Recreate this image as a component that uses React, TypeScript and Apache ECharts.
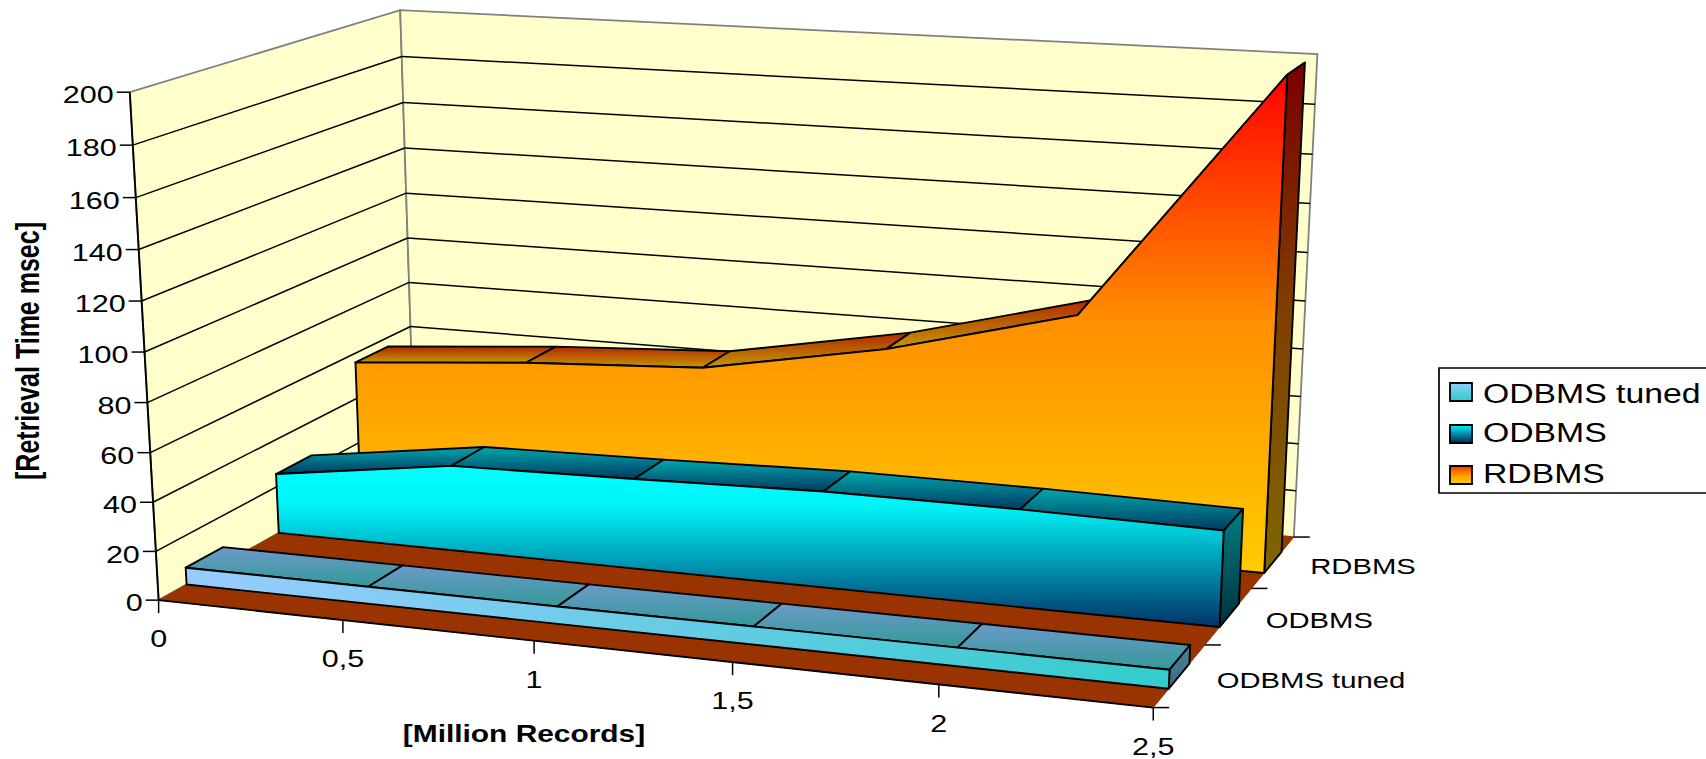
import React, { useEffect, useRef } from "react";
import * as echarts from "echarts";

const W = 1706;
const H = 759;

// Data
const xValues = [0, 0.5, 1, 1.5, 2, 2.5];
const xTickLabels = ["0", "0,5", "1", "1,5", "2", "2,5"];
const yTicks = [0, 20, 40, 60, 80, 100, 120, 140, 160, 180, 200];
const depthLabels = ["ODBMS tuned", "ODBMS", "RDBMS"];
const tunedValues = [7, 7, 7, 7.2, 7.3, 7.3];
const odbmsValues = [25.5, 36, 37.5, 39.5, 39.5, 38.5];
const rdbmsValues = [56, 62, 66, 80, 100, 200];

// Camera calibration: cube corner (x, value, depth) -> screen pixel
const corners: number[][] = [
  [0, 0, 0, 157.8, 599.2],
  [1, 0, 0, 1153.3, 708.4],
  [0, 0, 1, 415.6, 457.8],
  [1, 0, 1, 1293.6, 536.1],
  [0, 1, 0, 130.6, 92.4],
  [0, 1, 1, 399.3, 9.8],
  [1, 1, 1, 1317.6, 54.4],
];

function solveCamera(): number[] {
  const rows: number[][] = [];
  const rhs: number[] = [];
  for (const [X, Y, Z, u, v] of corners) {
    rows.push([X, Y, Z, 1, 0, 0, 0, 0, -u * X, -u * Y, -u * Z]);
    rhs.push(u);
    rows.push([0, 0, 0, 0, X, Y, Z, 1, -v * X, -v * Y, -v * Z]);
    rhs.push(v);
  }
  const n = 11;
  const A: number[][] = [];
  for (let i = 0; i < n; i++) {
    A.push(new Array(n + 1).fill(0));
    for (let j = 0; j < n; j++) {
      for (let r = 0; r < rows.length; r++) A[i][j] += rows[r][i] * rows[r][j];
    }
    for (let r = 0; r < rows.length; r++) A[i][n] += rows[r][i] * rhs[r];
  }
  for (let c = 0; c < n; c++) {
    let best = c;
    for (let r = c + 1; r < n; r++) if (Math.abs(A[r][c]) > Math.abs(A[best][c])) best = r;
    [A[c], A[best]] = [A[best], A[c]];
    for (let r = 0; r < n; r++) {
      if (r === c) continue;
      const f = A[r][c] / A[c][c];
      for (let k = c; k <= n; k++) A[r][k] -= f * A[c][k];
    }
  }
  return A.map((row, i) => row[n] / row[i]);
}

const cam = solveCamera();
const project = (X: number, Y: number, Z: number): number[] => {
  const w = cam[8] * X + cam[9] * Y + cam[10] * Z + 1;
  return [
    (cam[0] * X + cam[1] * Y + cam[2] * Z + cam[3]) / w,
    (cam[4] * X + cam[5] * Y + cam[6] * Z + cam[7]) / w,
  ];
};
// Data value -> pixel: the hidden axes give the scale, the camera gives the perspective
const pt = (api: any, x: number, v: number, z: number) => {
  const c = api.coord([x, v]);
  return project(c[0] / W, 1 - c[1] / H, z);
};

const FONT = "Liberation Sans, Arial, sans-serif";
const STRETCH = 1.3;
const EDGE = 1.9;
const GRID = 1.5;
const LG = (x2: number, y2: number, stops: [number, string][]) =>
  new echarts.graphic.LinearGradient(
    0,
    0,
    x2,
    y2,
    stops.map(([offset, color]) => ({ offset, color }))
  );

const label = (text: string, x: number, y: number, size: number, align: string) => ({
  type: "text",
  x,
  y,
  scaleX: STRETCH,
  style: {
    text,
    fill: "#000",
    fontSize: size,
    fontFamily: FONT,
    align,
    verticalAlign: "middle",
  },
});

const line = (a: number[], b: number[], stroke: string, lineWidth: number) => ({
  type: "line",
  shape: { x1: a[0], y1: a[1], x2: b[0], y2: b[1] },
  style: { stroke, lineWidth },
});

function renderFrame(_: any, api: any) {
  const children: any[] = [];
  const maxX = xValues[xValues.length - 1];
  const maxV = yTicks[yTicks.length - 1];
  const gray = "#808080";
  const wall = "#FFFFCC";
  // walls
  children.push({
    type: "polygon",
    shape: { points: [pt(api, 0, 0, 0), pt(api, 0, maxV, 0), pt(api, 0, maxV, 1), pt(api, 0, 0, 1)] },
    style: { fill: wall, stroke: gray, lineWidth: 1.8 },
  });
  children.push({
    type: "polygon",
    shape: { points: [pt(api, 0, 0, 1), pt(api, 0, maxV, 1), pt(api, maxX, maxV, 1), pt(api, maxX, 0, 1)] },
    style: { fill: wall, stroke: gray, lineWidth: 1.8 },
  });
  // gridlines
  for (const v of yTicks) {
    if (v !== 0 && v !== maxV) {
      children.push(line(pt(api, 0, v, 0), pt(api, 0, v, 1), "#000", GRID));
      children.push(line(pt(api, 0, v, 1), pt(api, maxX, v, 1), "#000", GRID));
    }
  }
  // floor
  children.push({
    type: "polygon",
    shape: { points: [pt(api, 0, 0, 0), pt(api, maxX, 0, 0), pt(api, maxX, 0, 1), pt(api, 0, 0, 1)] },
    style: { fill: "#993300", stroke: "#993300", lineWidth: 1 },
  });
  children.push(line(pt(api, 0, 0, 0), pt(api, maxX, 0, 0), "#000", EDGE));
  children.push(line(pt(api, 0, 0, 0), pt(api, 0, maxV, 0), "#000", EDGE));
  // value axis
  for (const v of yTicks) {
    const p = pt(api, 0, v, 0);
    children.push(line(p, [p[0] - 13, p[1]], "#000", GRID));
    children.push(label(String(v), p[0] - 16, p[1] + 3, 23.5, "right"));
  }
  // x axis
  xValues.forEach((x, i) => {
    const p = pt(api, x, 0, 0);
    children.push(line(p, [p[0], p[1] + 13], "#000", GRID));
    children.push(label(xTickLabels[i], p[0], p[1] + 39, 23.5, "center"));
  });
  // depth axis
  for (let k = 0; k <= depthLabels.length; k++) {
    const p = pt(api, maxX, 0, k / depthLabels.length);
    children.push(line(p, [p[0] + 16, p[1]], "#000", GRID));
  }
  depthLabels.forEach((name, k) => {
    const p = pt(api, maxX, 0, (k + 0.5) / depthLabels.length);
    children.push(label(name, p[0] + 37, p[1] + 4.5, 22.5, "left"));
  });
  // axis titles
  const yTitle = label("[Retrieval Time msec]", 28, 351, 25, "center");
  children.push({
    ...yTitle,
    scaleX: 1,
    scaleY: STRETCH,
    rotation: Math.PI / 2,
    style: { ...yTitle.style, fontWeight: "bold" },
  });
  const xTitle = label("[Million Records]", 524, 734, 23, "center");
  children.push({ ...xTitle, style: { ...xTitle.style, fontWeight: "bold" } });
  return { type: "group", children };
}

const makeRenderer =
  (k: number, band: number[], values: number[], front: any, top: any, side: any) => (params: any, api: any) => {
    const i = params.dataIndex;
    const n = depthLabels.length;
    const zf = (k + band[0]) / n;
    const zb = (k + band[1]) / n;
    const children: any[] = [];
    const S = { stroke: "#000", lineWidth: EDGE, lineJoin: "round" };
    if (i < values.length - 1) {
      children.push({
        type: "polygon",
        shape: {
          points: [
            pt(api, xValues[i], values[i], zf),
            pt(api, xValues[i + 1], values[i + 1], zf),
            pt(api, xValues[i + 1], values[i + 1], zb),
            pt(api, xValues[i], values[i], zb),
          ],
        },
        style: { fill: top, ...S },
      });
    } else {
      const last = xValues[i];
      children.push({
        type: "polygon",
        shape: {
          points: [pt(api, last, values[i], zf), pt(api, last, values[i], zb), pt(api, last, 0, zb), pt(api, last, 0, zf)],
        },
        style: { fill: side, ...S },
      });
      const pts = xValues.map((x, j) => pt(api, x, values[j], zf));
      pts.push(pt(api, last, 0, zf), pt(api, xValues[0], 0, zf));
      children.push({ type: "polygon", shape: { points: pts }, style: { fill: front, ...S } });
    }
    return { type: "group", children };
  };

const rdbmsFront = () => LG(0, 1, [[0, "#FF0000"], [0.5, "#FF9000"], [1, "#FFCC00"]]);
const odbmsFront = () => LG(0, 1, [[0, "#00FFFF"], [0.25, "#00F4F8"], [1, "#003366"]]);
const tunedFront = () => LG(1, 0, [[0, "#99CCFF"], [1, "#33CCCC"]]);

const seriesOf = (name: string, values: number[], z: number, r: any) => ({
  type: "custom",
  name,
  coordinateSystem: "cartesian2d",
  silent: true,
  z,
  data: xValues.map((x, i) => [x, values[i]]),
  renderItem: r,
});

function legendElements() {
  const x0 = 1439;
  const rows = [
    { name: depthLabels[0], y: 392, ty: 392, fill: LG(0, 1, [[0, "#99CCFF"], [1, "#33CCCC"]]) },
    { name: depthLabels[1], y: 434, ty: 431, fill: LG(0, 1, [[0, "#00FFFF"], [1, "#003366"]]) },
    { name: depthLabels[2], y: 475, ty: 472, fill: LG(0, 1, [[0, "#FF2000"], [0.5, "#FF9000"], [1, "#FFCC00"]]) },
  ];
  const out: any[] = [
    {
      type: "rect",
      shape: { x: x0, y: 368, width: 300, height: 125 },
      style: { fill: "#fff", stroke: "#000", lineWidth: 1.7 },
    },
  ];
  for (const r of rows) {
    out.push({
      type: "rect",
      shape: { x: x0 + 10, y: r.y - 10, width: 22, height: 18 },
      style: { fill: r.fill },
    });
    out.push({
      type: "rect",
      shape: { x: x0 + 11, y: r.y - 9, width: 22, height: 18 },
      style: { fill: "none", stroke: "#000", lineWidth: 1.8 },
    });
    out.push({
      type: "text",
      x: x0 + 44,
      y: r.ty + 1,
      scaleX: 1.25,
      style: { text: r.name, fill: "#000", fontSize: 27, fontFamily: FONT, align: "left", verticalAlign: "middle" },
    });
  }
  return out;
}

export default function App() {
  const ref = useRef<HTMLDivElement>(null);
  useEffect(() => {
    if (!ref.current) return;
    const chart = echarts.init(ref.current, undefined, { renderer: "svg" });
    chart.setOption({
      animation: false,
      backgroundColor: "#fff",
      grid: { left: 0, top: 0, right: 0, bottom: 0 },
      xAxis: { type: "value", min: 0, max: 2.5, show: false },
      yAxis: { type: "value", min: 0, max: 200, show: false },
      series: [
        {
          type: "custom",
          coordinateSystem: "cartesian2d",
          silent: true,
          z: 1,
          data: [[0, 0]],
          renderItem: renderFrame,
        },
        seriesOf(
          "RDBMS",
          rdbmsValues,
          2,
          makeRenderer(
            2,
            [0.29, 0.7],
            rdbmsValues,
            rdbmsFront(),
            LG(0, 1, [[0, "#B02800"], [1, "#C49A00"]]),
            LG(0, 1, [[0, "#7A0000"], [0.5, "#7F4000"], [1, "#806600"]])
          )
        ),
        seriesOf(
          "ODBMS",
          odbmsValues,
          3,
          makeRenderer(
            1,
            [0.306, 0.72],
            odbmsValues,
            odbmsFront(),
            LG(0, 1, [[0, "#00A8AE"], [1, "#003A60"]]),
            LG(0, 1, [[0, "#008080"], [1, "#002F40"]])
          )
        ),
        seriesOf(
          "ODBMS tuned",
          tunedValues,
          4,
          makeRenderer(
            0,
            [0.29, 0.69],
            tunedValues,
            tunedFront(),
            LG(0, 1, [[0, "#6C9AC8"], [1, "#339999"]]),
            LG(0, 1, [[0, "#4D7F99"], [1, "#3A6B80"]])
          )
        ),
      ],
      graphic: { elements: legendElements() },
    });
    return () => chart.dispose();
  }, []);
  return (
    <div
      ref={ref}
      style={{ position: "fixed", left: 0, top: 0, width: W, height: H, overflow: "hidden", background: "#fff" }}
    />
  );
}
